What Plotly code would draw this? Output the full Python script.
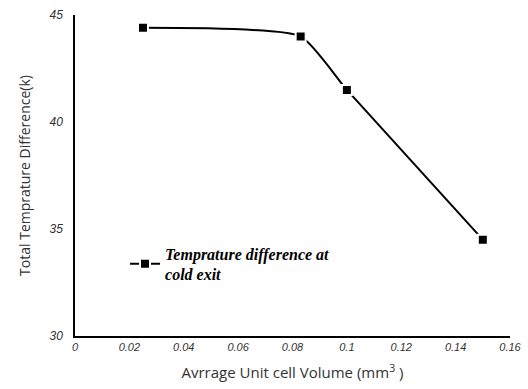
import plotly.graph_objects as go

volume = [0.025, 0.083, 0.1, 0.15]
temp_diff = [44.4, 44.0, 41.5, 34.5]
x_ticks = [0, 0.02, 0.04, 0.06, 0.08, 0.1, 0.12, 0.14, 0.16]
x_tick_text = ["0", "0.02", "0.04", "0.06", "0.08", "0.1", "0.12", "0.14", "0.16"]
y_ticks = [30, 35, 40, 45]

fig = go.Figure()
fig.add_trace(go.Scatter(
    x=volume, y=temp_diff, mode="lines+markers",
    name="Temprature difference at<br>cold exit",
    line=dict(color="black", width=2, shape="spline", smoothing=0.5),
    marker=dict(symbol="square", size=10, color="black", line=dict(color="white", width=2)),
))
fig.update_layout(
    width=528, height=389,
    margin=dict(l=75, r=18, t=15, b=53, autoexpand=False),
    paper_bgcolor="white", plot_bgcolor="white",
    showlegend=True,
    legend=dict(x=0.115, y=0.31, xanchor="left", yanchor="top",
                font=dict(family="Liberation Serif", size=16, color="black", style="italic", weight="bold"),
                bgcolor="rgba(0,0,0,0)", itemwidth=30),
    xaxis=dict(range=[0, 0.16], tickvals=x_ticks, ticktext=x_tick_text, showgrid=False, zeroline=False,
               showline=True, linecolor="black", linewidth=1.5, ticks="", automargin=False,
               tickfont=dict(family="Liberation Sans", size=11, color="#333", style="italic"),
               title=dict(text="Avrrage Unit cell Volume (mm<sup>3</sup> )", font=dict(family="Open Sans", size=15, color="#333"), standoff=16)),
    yaxis=dict(range=[30, 45], tickvals=y_ticks, showgrid=False, zeroline=False,
               showline=True, linecolor="black", linewidth=1.5, ticks="", automargin=False,
               tickfont=dict(family="Liberation Sans", size=12, color="#333", style="italic"),
               ticklabelstandoff=8,
               title=dict(text="Total Temprature Difference(k)", font=dict(family="Open Sans", size=14, color="#333"), standoff=16)),
)
fig.write_html("out.html")
